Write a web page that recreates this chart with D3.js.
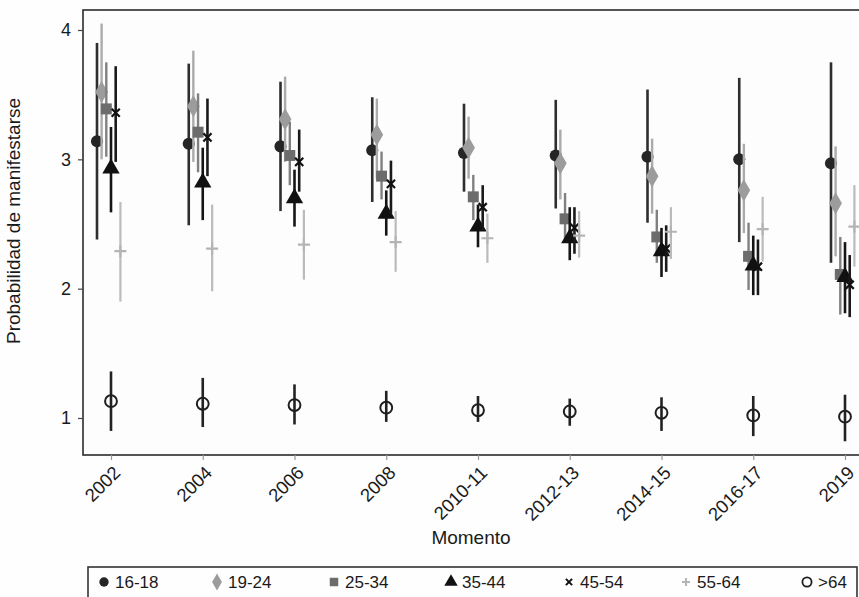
<!DOCTYPE html>
<html>
<head>
<meta charset="utf-8">
<script src="https://cdn.jsdelivr.net/npm/d3@7"></script>
<style>
  body { margin: 0; background: #fefefe; }
  svg { display: block; font-family: "Liberation Sans", Arial, sans-serif; }
</style>
</head>
<body>
<script>
const WIDTH = 859;
const HEIGHT = 597;

// categorias del eje x
const momentos = ['2002', '2004', '2006', '2008', '2010-11', '2012-13', '2014-15', '2016-17', '2019'];
const grupos = ['16-18', '19-24', '25-34', '35-44', '45-54', '55-64', '>64'];
const yTicks = [1, 2, 3, 4];

// estimaciones y limites de los intervalos por grupo de edad
const est1618 = [3.14, 3.12, 3.10, 3.07, 3.05, 3.03, 3.02, 3.00, 2.97];
const lo1618  = [2.38, 2.49, 2.60, 2.67, 2.75, 2.62, 2.51, 2.36, 2.20];
const hi1618  = [3.90, 3.74, 3.60, 3.48, 3.43, 3.46, 3.54, 3.63, 3.75];

const est1924 = [3.52, 3.41, 3.31, 3.19, 3.09, 2.97, 2.87, 2.76, 2.66];
const lo1924  = [3.00, 2.98, 2.98, 2.85, 2.85, 2.69, 2.58, 2.43, 2.25];
const hi1924  = [4.05, 3.84, 3.64, 3.47, 3.33, 3.23, 3.16, 3.12, 3.10];

const est2534 = [3.39, 3.21, 3.03, 2.87, 2.71, 2.54, 2.40, 2.25, 2.11];
const lo2534  = [3.02, 2.90, 2.80, 2.69, 2.53, 2.38, 2.20, 1.99, 1.80];
const hi2534  = [3.75, 3.51, 3.29, 3.06, 2.88, 2.74, 2.61, 2.51, 2.40];

const est3544 = [2.93, 2.82, 2.70, 2.58, 2.48, 2.39, 2.29, 2.18, 2.09];
const lo3544  = [2.59, 2.53, 2.48, 2.41, 2.32, 2.22, 2.09, 1.95, 1.81];
const hi3544  = [3.25, 3.09, 2.92, 2.76, 2.65, 2.63, 2.47, 2.41, 2.36];

const est4554 = [3.36, 3.17, 2.98, 2.81, 2.63, 2.47, 2.31, 2.17, 2.03];
const lo4554  = [2.98, 2.87, 2.75, 2.58, 2.45, 2.27, 2.13, 1.95, 1.78];
const hi4554  = [3.72, 3.47, 3.23, 2.99, 2.80, 2.63, 2.49, 2.38, 2.26];

const est5564 = [2.29, 2.31, 2.34, 2.36, 2.39, 2.41, 2.44, 2.46, 2.48];
const lo5564  = [1.90, 1.98, 2.07, 2.13, 2.20, 2.24, 2.23, 2.21, 2.17];
const hi5564  = [2.67, 2.65, 2.61, 2.60, 2.58, 2.60, 2.63, 2.71, 2.80];

const est64 = [1.13, 1.11, 1.10, 1.08, 1.06, 1.05, 1.04, 1.02, 1.01];
const lo64  = [0.90, 0.93, 0.95, 0.97, 0.97, 0.94, 0.90, 0.86, 0.82];
const hi64  = [1.36, 1.31, 1.26, 1.21, 1.17, 1.15, 1.16, 1.17, 1.18];

const series = [
    {grupo: '16-18', est: est1618, lo: lo1618, hi: hi1618},
    {grupo: '19-24', est: est1924, lo: lo1924, hi: hi1924},
    {grupo: '25-34', est: est2534, lo: lo2534, hi: hi2534},
    {grupo: '35-44', est: est3544, lo: lo3544, hi: hi3544},
    {grupo: '45-54', est: est4554, lo: lo4554, hi: hi4554},
    {grupo: '55-64', est: est5564, lo: lo5564, hi: hi5564},
    {grupo: '>64', est: est64, lo: lo64, hi: hi64}
];

// estilo por grupo
const estilo = {
    '16-18': {sym: d3.symbolCircle, size: 115, fill: '#252525', stroke: 'none', line: '#2e2e2e', lw: 2.6, dx: -14},
    '19-24': {sym: d3.symbolDiamond, size: 140, fill: '#9c9c9c', stroke: 'none', line: '#ababab', lw: 2.4, dx: -9.4},
    '25-34': {sym: d3.symbolSquare, size: 120, fill: '#6c6c6c', stroke: 'none', line: '#808080', lw: 2.4, dx: -4.7},
    '35-44': {sym: d3.symbolTriangle, size: 130, fill: '#111', stroke: 'none', line: '#151515', lw: 2.6, dx: 0},
    '45-54': {sym: d3.symbolX, size: 45, fill: 'none', stroke: '#111', line: '#1a1a1a', lw: 2.6, dx: 4.7},
    '55-64': {sym: d3.symbolCross, size: 0, fill: 'none', stroke: '#b4b4b4', line: '#bbbbbb', lw: 2.2, dx: 9.4},
    '>64': {sym: d3.symbolCircle, size: 110, fill: 'none', stroke: '#1e1e1e', line: '#222', lw: 2.6, dx: 0}
};
const legendX = [104, 217, 334, 451, 569, 686, 807];

const margin = {left: 83, top: 10, right: 873, bottom: 455};

var x = d3.scalePoint()
    .domain(momentos)
    .range([111, 845]);

var y = d3.scaleLinear()
    .domain([1, 4])
    .range([418, 30]);

var svg = d3.select('body')
    .append('svg')
    .attr('width', WIDTH)
    .attr('height', HEIGHT)
    .attr('viewBox', '0 0 ' + WIDTH + ' ' + HEIGHT);

svg.append('rect')
    .attr('width', WIDTH)
    .attr('height', HEIGHT)
    .attr('fill', '#fefefe');

// panel
svg.append('rect')
    .attr('x', margin.left)
    .attr('y', margin.top)
    .attr('width', margin.right - margin.left)
    .attr('height', margin.bottom - margin.top)
    .attr('fill', '#fdfdfd')
    .attr('stroke', '#2b2b2b')
    .attr('stroke-width', 1.6);

// eje y
var yAxis = svg.append('g')
    .attr('transform', 'translate(' + margin.left + ',0)')
    .call(d3.axisLeft(y).tickValues(yTicks).tickSize(5).tickPadding(7).tickFormat(d3.format('d')));
yAxis.select('.domain').remove();
yAxis.selectAll('line').attr('stroke', '#444').attr('stroke-width', 1.2);
yAxis.selectAll('text')
    .attr('font-size', '18px')
    .attr('fill', '#1a1a1a')
    .attr('font-family', '"Liberation Sans", Arial, sans-serif');

// eje x
var xAxis = svg.append('g')
    .attr('transform', 'translate(0,' + margin.bottom + ')')
    .call(d3.axisBottom(x).tickSize(5).tickPadding(0));
xAxis.select('.domain').remove();
xAxis.selectAll('line').attr('stroke', '#999').attr('stroke-width', 1.2);
xAxis.selectAll('text')
    .attr('font-size', '18.5px')
    .attr('fill', '#1a1a1a')
    .attr('font-family', '"Liberation Sans", Arial, sans-serif')
    .attr('text-anchor', 'end')
    .attr('dy', null)
    .attr('y', 0)
    .attr('transform', 'translate(10,19) rotate(-45)');

// titulos
svg.append('text')
    .attr('x', 471)
    .attr('y', 544)
    .attr('text-anchor', 'middle')
    .attr('font-size', '19px')
    .attr('fill', '#1a1a1a')
    .text('Momento');

svg.append('text')
    .attr('transform', 'translate(20,221) rotate(-90)')
    .attr('text-anchor', 'middle')
    .attr('font-size', '19px')
    .attr('fill', '#1a1a1a')
    .text('Probabilidad de manifestarse');

// marcas
var plot = svg.append('g');

function crossPath(s) {
    return 'M' + (-s) + ',0H' + s + 'M0,' + (-s) + 'V' + s;
}

series.forEach(function(serie) {
    var st = estilo[serie.grupo];
    var g = plot.append('g').attr('class', 'grupo');
    var filas = momentos.map(function(m, i) {
        return {m: m, est: serie.est[i], lo: serie.lo[i], hi: serie.hi[i]};
    });

    g.selectAll('line')
        .data(filas)
        .enter()
        .append('line')
        .attr('x1', function(d) { return x(d.m) + st.dx; })
        .attr('x2', function(d) { return x(d.m) + st.dx; })
        .attr('y1', function(d) { return y(d.lo); })
        .attr('y2', function(d) { return y(d.hi); })
        .attr('stroke', st.line)
        .attr('stroke-width', st.lw);

    g.selectAll('path')
        .data(filas)
        .enter()
        .append('path')
        .attr('transform', function(d) {
            return 'translate(' + (x(d.m) + st.dx) + ',' + y(d.est) + ')';
        })
        .attr('d', serie.grupo === '55-64' ? crossPath(6) : d3.symbol(st.sym, st.size))
        .attr('fill', st.fill)
        .attr('stroke', st.stroke)
        .attr('stroke-width', serie.grupo === '>64' ? 2 : 2.2);
});

// leyenda
var legend = svg.append('g');
legend.append('rect')
    .attr('x', 88)
    .attr('y', 567)
    .attr('width', 769)
    .attr('height', 40)
    .attr('fill', '#fefefe')
    .attr('stroke', '#333')
    .attr('stroke-width', 1.6);

var item = legend.selectAll('.item')
    .data(grupos)
    .enter()
    .append('g')
    .attr('class', 'item')
    .attr('transform', function(d, i) {
        return 'translate(' + legendX[i] + ',582)';
    });

item.append('path')
    .attr('d', function(d) {
        var st = estilo[d];
        if (d === '55-64') return crossPath(4);
        return d3.symbol(st.sym, st.size * 0.6)();
    })
    .attr('fill', function(d) { return estilo[d].fill; })
    .attr('stroke', function(d) { return estilo[d].stroke; })
    .attr('stroke-width', function(d) { return d === '>64' ? 1.8 : 2; });

item.append('text')
    .attr('x', 11)
    .attr('y', 6)
    .attr('font-size', '17px')
    .attr('fill', '#1a1a1a')
    .text(function(d) { return d; });
</script>
</body>
</html>
